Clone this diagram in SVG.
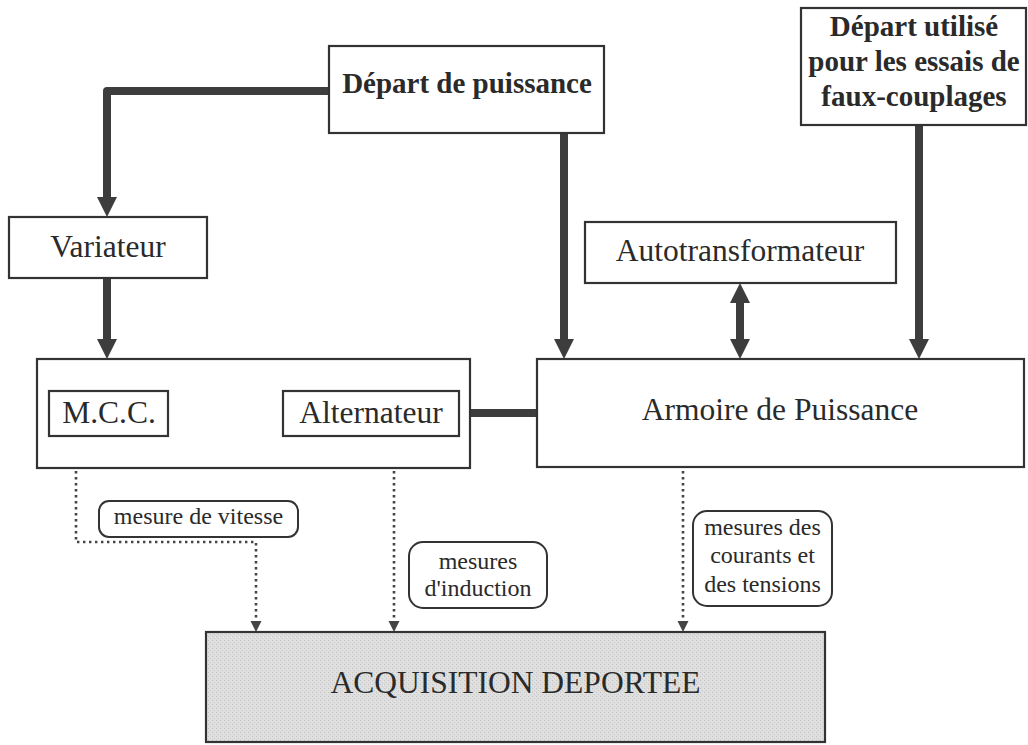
<svg xmlns="http://www.w3.org/2000/svg" width="1028" height="745" viewBox="0 0 1028 745">
<style>
.box{fill:#fff;stroke:#333;stroke-width:2.2}
.lbl{fill:#fff;stroke:#333;stroke-width:2}
.t{font-family:"Liberation Serif","Times New Roman",serif;fill:#2a2a2a;text-anchor:middle}
.big{font-size:31.5px}
.bold{font-size:29px;font-weight:bold}
.sm{font-size:24px}
.thick{fill:none;stroke:#3d3d3d;stroke-width:8;stroke-linejoin:round}
.dot{fill:none;stroke:#444;stroke-width:2.6;stroke-dasharray:2.4 3.6}
</style>
<defs>
<marker id="ah" markerUnits="userSpaceOnUse" markerWidth="20" markerHeight="20" viewBox="0 -10 20 20" refX="0" refY="0" orient="auto-start-reverse">
<path d="M0,-10 L20,0 L0,10 z" fill="#3d3d3d"/>
</marker>
<marker id="sh" markerUnits="userSpaceOnUse" markerWidth="12" markerHeight="12" viewBox="0 -6 12 12" refX="0" refY="0" orient="auto">
<path d="M0,-5.5 L11,0 L0,5.5 z" fill="#444"/>
</marker>
<pattern id="tex" width="4" height="4" patternUnits="userSpaceOnUse">
<rect width="4" height="4" fill="#dedede"/>
<rect x="0" y="0" width="1" height="1" fill="#c4c4c4"/>
<rect x="2" y="2" width="1" height="1" fill="#cacaca"/>
<rect x="3" y="1" width="1" height="1" fill="#e8e8e8"/>
</pattern>
</defs>

<g id="connectors">
<path class="thick" d="M329,91 H107 V197" marker-end="url(#ah)"/>
<path class="thick" d="M107,278 V339" marker-end="url(#ah)"/>
<path class="thick" d="M564,133 V339" marker-end="url(#ah)"/>
<path class="thick" d="M919,125 V339" marker-end="url(#ah)"/>
<path class="thick" d="M740,303 V339" marker-start="url(#ah)" marker-end="url(#ah)"/>
<path class="thick" d="M459,413 H537"/>
<path class="dot" d="M76,471 V542 H256 V621" marker-end="url(#sh)"/>
<path class="dot" d="M394,471 V621" marker-end="url(#sh)"/>
<path class="dot" d="M683,471 V621" marker-end="url(#sh)"/>
</g>

<g id="depart-puissance">
<rect class="box" x="329" y="46" width="275" height="87"/>
<text class="t bold" x="467" y="93">Départ de puissance</text>
</g>

<g id="depart-utilise">
<rect class="box" x="801" y="8" width="225" height="117"/>
<text class="t bold" x="914" y="36">Départ utilisé</text>
<text class="t bold" x="914" y="71">pour les essais de</text>
<text class="t bold" x="914" y="106">faux-couplages</text>
</g>

<g id="variateur">
<rect class="box" x="9" y="217" width="198" height="61"/>
<text class="t big" x="108" y="257">Variateur</text>
</g>

<g id="autotransformateur">
<rect class="box" x="585" y="222" width="311" height="61"/>
<text class="t big" x="740" y="261">Autotransformateur</text>
</g>

<g id="groupe">
<rect class="box" x="37" y="359" width="433" height="109"/>
</g>

<g id="mcc">
<rect class="box" x="49" y="391" width="119" height="45"/>
<text class="t big" x="109" y="423">M.C.C.</text>
</g>

<g id="alternateur">
<rect class="box" x="283" y="391" width="176" height="45"/>
<text class="t big" x="371" y="423">Alternateur</text>
</g>

<g id="armoire">
<rect class="box" x="537" y="359" width="487" height="108"/>
<text class="t big" x="780" y="420">Armoire de Puissance</text>
</g>

<g id="label-vitesse">
<rect class="lbl" x="99" y="501" width="199" height="36" rx="10"/>
<text class="t sm" x="198.5" y="524">mesure de vitesse</text>
</g>

<g id="label-induction">
<rect class="lbl" x="409" y="542" width="138" height="66" rx="14"/>
<text class="t sm" x="478" y="569">mesures</text>
<text class="t sm" x="478" y="596">d'induction</text>
</g>

<g id="label-courants">
<rect class="lbl" x="693" y="511" width="139" height="95" rx="14"/>
<text class="t sm" x="762.5" y="535">mesures des</text>
<text class="t sm" x="762.5" y="563">courants et</text>
<text class="t sm" x="762.5" y="592">des tensions</text>
</g>

<g id="acquisition">
<rect x="206" y="632" width="619" height="110" fill="url(#tex)" stroke="#333" stroke-width="2.2"/>
<text class="t big" x="515.5" y="693">ACQUISITION DEPORTEE</text>
</g>
</svg>
